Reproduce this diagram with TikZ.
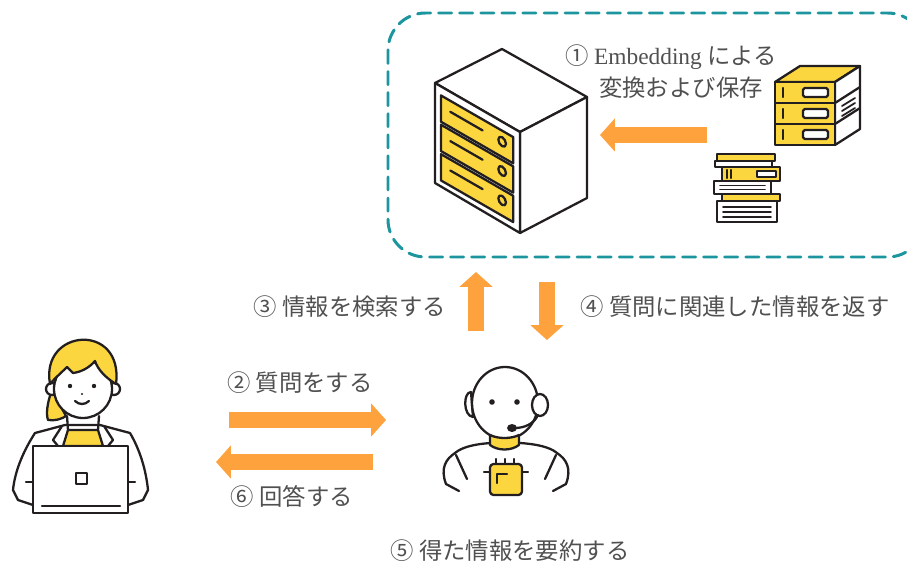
\documentclass[tikz,border=0pt]{standalone}
\usepackage{fontspec}
\setmainfont{Noto Sans CJK JP}
\newfontfamily\embfont{Liberation Serif}
\usetikzlibrary{arrows.meta,positioning}

\definecolor{flowarrow}{HTML}{FDA23C}
\definecolor{boxyellow}{HTML}{FCD63F}
\definecolor{storeteal}{HTML}{1D959E}
\definecolor{notegray}{HTML}{505050}
\definecolor{ink}{HTML}{231F20}

\begin{document}
\begin{tikzpicture}[x=0.02cm,y=-0.02cm,line join=round,line cap=round]
  \tikzstyle{note}=[text=notegray,font=\fontsize{13.3}{16}\selectfont,inner sep=0pt]
  \tikzstyle{flow}=[draw=flowarrow,line width=9.5pt,line cap=butt,-{Triangle[length=8.5pt,width=18.5pt]}]
  \tikzstyle{outline}=[draw=ink,line width=1.3pt]
  \tikzstyle{part}=[outline,fill=white]
  \tikzstyle{gold}=[outline,fill=boxyellow]

  \useasboundingbox (0,0) rectangle (907,565);

  % vector store area
  \begin{scope}
    \clip (0,0) rectangle (907,565);
    \draw[storeteal,line width=1.7pt,dash pattern=on 7.4pt off 4.6pt,rounded corners=0.75cm]
      (388,13) rectangle (925,257);
  \end{scope}

  % big server
  \draw[part] (435,83) -- (502,49) -- (587,97) -- (520,132) -- cycle;
  \draw[part] (520,132) -- (587,97) -- (587,198) -- (520,233) -- cycle;
  \draw[part] (435,83) -- (520,132) -- (520,233) -- (435,183) -- cycle;
  \begin{scope}[shift={(435,83)},x={(85,49)},y={(0,100)}]
    \foreach \t in {0.09,0.383,0.677} {
      \draw[gold] (0.07,\t) -- (0.92,\t) -- (0.92,\t+0.263) -- (0.07,\t+0.263) -- cycle;
      \draw[outline] (0.18,\t+0.11) -- (0.56,\t+0.11);
      \draw[outline] (0.79,\t+0.11) circle (0.045);
    }
  \end{scope}

  % small server
  \draw[gold] (775,82) -- (800,66) -- (860,66) -- (835,82) -- cycle;
  \draw[part] (835,82) -- (860,66) -- (860,129) -- (835,145) -- cycle;
  \draw[outline] (835,103) -- (860,87);
  \draw[outline] (835,124) -- (860,108);
  \foreach \y in {106,111,116}
    \draw[outline,line width=1pt] (842,\y) -- (855,\y-8);
  \foreach \y in {82,103,124} {
    \draw[gold] (775,\y) rectangle (835,\y+21);
    \draw[outline] (783,\y+6) -- (783,\y+15);
    \draw[part,rounded corners=1pt] (803,\y+6) rectangle (828,\y+15);
  }

  % books
  \draw[gold] (717,154) rectangle (775,161);
  \draw[part] (715,161) rectangle (772,167);
  \draw[gold] (722,167) rectangle (780,181);
  \draw[outline] (727,170) -- (727,178);
  \draw[outline] (731,170) -- (731,178);
  \draw[part] (757,171) rectangle (776,177);
  \draw[part] (714,181) rectangle (771,194);
  \draw[outline,line width=1pt] (720,185.5) -- (765,185.5);
  \draw[outline,line width=1pt] (720,189.5) -- (765,189.5);
  \draw[gold] (722,194) rectangle (780,201);
  \draw[part] (717,201) rectangle (777,222);
  \foreach \y in {207,212,217}
    \draw[outline,line width=1pt] (723,\y) -- (771,\y);

  % user with laptop
  \draw[gold] (52,390) .. controls (47,403) and (46,414) .. (48,420)
    .. controls (55,421) and (62,419) .. (66,416) -- cycle;
  \draw[part] (52,389) circle (6);
  \draw[part] (114,389) circle (6);
  \draw[part] (83,389) ellipse (29 and 29);
  \draw[gold] (50,384) .. controls (40,328) and (124,322) .. (116,384)
    .. controls (106,378) and (98,370) .. (95,361)
    .. controls (89,368) and (81,372) .. (73,373)
    .. controls (71,371) and (69,369) .. (67,367)
    .. controls (61,373) and (55,378) .. (50,384) -- cycle;
  \fill[ink] (70,386) circle (2.2) (94,386) circle (2.2);
  \fill[ink] (82,394) circle (1.2);
  \draw[outline] (75,401) .. controls (79,405) and (85,405) .. (89,401);
  \draw[part] (65,425) -- (35,433) .. controls (24,450) and (15,470) .. (13,490)
    -- (18,500) -- (33,505) -- (128,505) -- (143,500) -- (148,490)
    .. controls (146,470) and (140,450) .. (130,433) -- (100,425) -- cycle;
  \draw[outline] (67,416) -- (68,430);
  \draw[outline] (99,416) -- (98,430);
  \draw[gold] (68,430) -- (98,430) -- (103,446) -- (63,446) -- cycle;
  \draw[outline] (62,426) -- (53,440) -- (58,446);
  \draw[outline] (104,426) -- (113,440) -- (108,446);
  \draw[outline] (26,482) -- (33,482);
  \draw[outline] (128,482) -- (135,482);
  \draw[part] (33,446) rectangle (128,513);
  \draw[outline] (76,473) rectangle (87,484);
  \draw[outline] (42,506) -- (120,506);

  % assistant robot
  \draw[part] (471,392) .. controls (463,392) and (463,416) .. (473,417) -- cycle;
  \draw[part] (505,403) ellipse (33 and 36);
  \draw[part] (540,405) ellipse (8 and 11);
  \fill[ink] (492,402) circle (2.8) (517,402) circle (2.8);
  \draw[outline] (538,415) .. controls (534,424) and (524,428) .. (515,428);
  \fill[ink] (512,428) ellipse (5 and 4);
  \draw[outline] (491,443) .. controls (475,444) and (462,447) .. (455,453)
    .. controls (446,459) and (440,468) .. (446,484) -- (459,491);
  \draw[outline] (520,443) .. controls (536,444) and (550,447) .. (557,453)
    .. controls (566,459) and (572,468) .. (566,484) -- (553,491);
  \draw[outline] (456,455) -- (467,479);
  \draw[outline] (556,455) -- (545,479);
  \draw[gold] (490,435) -- (490,445) .. controls (498,451) and (511,451) .. (519,445)
    -- (519,435) .. controls (511,439) and (498,439) .. (490,435) -- cycle;
  \foreach \x in {496,505,514}
    \draw[outline] (\x,459) -- (\x,465);
  \draw[outline] (484,472) -- (490,472);
  \draw[outline] (522,472) -- (528,472);
  \draw[gold,rounded corners=2pt] (490,464) rectangle (522,495);
  \draw[outline] (497,483) -- (497,474) -- (507,474);

  % flow arrows
  \coordinate (docs out) at (707,135);
  \coordinate (server in) at (600,135);
  \coordinate (ask out) at (229,420);
  \coordinate (ask in) at (386,420);
  \coordinate (reply out) at (373,462);
  \coordinate (reply in) at (216,462);
  \coordinate (search out) at (476,331);
  \coordinate (search in) at (476,272);
  \coordinate (found out) at (547,282);
  \coordinate (found in) at (547,340);

  \draw[flow] (docs out) -- (server in);
  \draw[flow] (ask out) -- (ask in);
  \draw[flow] (reply out) -- (reply in);
  \draw[flow] (search out) -- (search in);
  \draw[flow] (found out) -- (found in);

  % step labels
  \node[note] (embed) at (671,57) {① {\embfont Embedding} による};
  \node[note] (store) at (681,88) {変換および保存};
  \node[note] (ask) at (300,383) {② 質問をする};
  \node[note] (search) at (350,307) {③ 情報を検索する};
  \node[note] (found) at (735,307) {④ 質問に関連した情報を返す};
  \node[note] (summary) at (510,551) {⑤ 得た情報を要約する};
  \node[note] (reply) at (292,497) {⑥ 回答する};

\end{tikzpicture}
\end{document}
